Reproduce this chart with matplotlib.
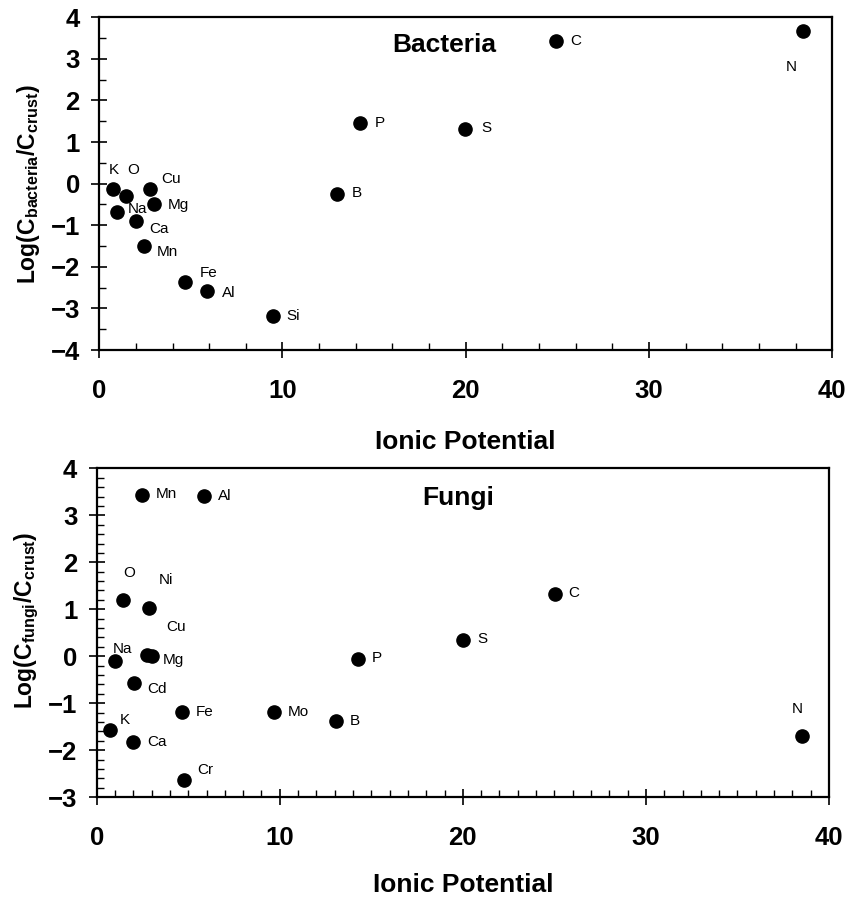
import matplotlib
matplotlib.use("Agg")
import matplotlib.pyplot as plt
from matplotlib.ticker import MultipleLocator

plt.rcParams["font.family"] = ["Liberation Sans", "DejaVu Sans"]
plt.rcParams["mathtext.fontset"] = "custom"
plt.rcParams["mathtext.rm"] = "Liberation Sans"
plt.rcParams["mathtext.bf"] = "Liberation Sans:bold"

# Bacteria panel
bac_elements = ["K", "O", "Cu", "Mg", "Na", "Ca", "Mn", "Fe", "Al", "Si", "B", "P", "S", "C", "N"]
bac_x = [0.73, 1.46, 2.78, 3.0, 0.98, 1.98, 2.44, 4.68, 5.86, 9.49, 13.0, 14.24, 19.95, 24.92, 38.4]
bac_y = [-0.13, -0.30, -0.12, -0.50, -0.69, -0.90, -1.50, -2.36, -2.59, -3.19, -0.25, 1.46, 1.32, 3.42, 3.67]
bac_label_x = [0.80, 1.84, 3.9, 4.29, 2.06, 3.26, 3.69, 5.98, 7.08, 10.57, 14.06, 15.31, 21.13, 25.99, 37.77]
bac_label_y = [0.33, 0.33, 0.11, -0.51, -0.61, -1.09, -1.64, -2.15, -2.63, -3.18, -0.23, 1.46, 1.34, 3.44, 2.81]

# Fungi panel
fun_elements = ["Mn", "Al", "O", "Ni", "Na", "Cu", "Mg", "Cd", "Fe", "Mo", "B", "P", "K", "Ca", "Cr", "S", "C", "N"]
fun_x = [2.50, 5.87, 1.46, 2.88, 1.0, 2.74, 3.04, 2.02, 4.67, 9.69, 13.08, 14.29, 0.75, 2.0, 4.76, 20.03, 25.01, 38.5]
fun_y = [3.43, 3.41, 1.20, 1.03, -0.11, 0.03, 0.0, -0.56, -1.19, -1.19, -1.38, -0.06, -1.57, -1.82, -2.63, 0.35, 1.32, -1.70]
fun_label_x = [3.78, 6.97, 1.78, 3.78, 1.42, 4.34, 4.18, 3.30, 5.89, 11.0, 14.08, 15.29, 1.53, 3.28, 5.94, 21.05, 26.05, 38.26]
fun_label_y = [3.45, 3.41, 1.78, 1.62, 0.15, 0.63, -0.08, -0.69, -1.19, -1.19, -1.37, -0.04, -1.36, -1.82, -2.42, 0.36, 1.34, -1.13]


def style_axes(ax, ymin, ymax, yminor, xminor, xlabelpad):
    ax.set_xlim(0, 40)
    ax.set_ylim(ymin, ymax)
    ax.xaxis.set_major_locator(MultipleLocator(10))
    ax.xaxis.set_minor_locator(MultipleLocator(xminor))
    ax.yaxis.set_major_locator(MultipleLocator(1))
    ax.yaxis.set_minor_locator(MultipleLocator(yminor))
    ax.tick_params(which="major", direction="inout", length=12, width=1.2, labelsize=18.5)
    ax.tick_params(which="minor", direction="in", length=5, width=1.0)
    ax.tick_params(axis="x", which="major", pad=15)
    ax.tick_params(axis="y", which="major", pad=8)
    for label in ax.get_xticklabels() + ax.get_yticklabels():
        label.set_fontweight("bold")
    for spine in ax.spines.values():
        spine.set_linewidth(1.6)
    ax.set_xlabel("Ionic Potential", fontsize=19, fontweight="bold", labelpad=xlabelpad)


fig = plt.figure(figsize=(8.5, 8.97), dpi=100)

ax1 = fig.add_axes([0.1168, 0.6098, 0.979 - 0.1168, 0.9807 - 0.6098])
ax1.plot(bac_x, bac_y, "o", color="black", markersize=9.5)
for name, lx, ly in zip(bac_elements, bac_label_x, bac_label_y):
    ax1.text(lx, ly, name, fontsize=11, ha="center", va="center")
ax1.text(16.0, 3.33, "Bacteria", fontsize=19, fontweight="bold", ha="left", va="center")
style_axes(ax1, -4, 4, 0.5, 2, 19)
ax1.set_ylabel(r"Log(C$_{\mathbf{bacteria}}$/C$_{\mathbf{crust}}$)", fontsize=16.5, fontweight="bold")
ax1.yaxis.set_label_coords(-0.078, 0.5)

ax2 = fig.add_axes([0.1138, 0.1112, 0.9753 - 0.1138, 0.4779 - 0.1112])
ax2.plot(fun_x, fun_y, "o", color="black", markersize=9.5)
for name, lx, ly in zip(fun_elements, fun_label_x, fun_label_y):
    ax2.text(lx, ly, name, fontsize=11, ha="center", va="center")
ax2.text(17.8, 3.36, "Fungi", fontsize=19, fontweight="bold", ha="left", va="center")
style_axes(ax2, -3, 4, 0.2, 1, 16.5)
ax2.set_ylabel(r"Log(C$_{\mathbf{fungi}}$/C$_{\mathbf{crust}}$)", fontsize=16.5, fontweight="bold")
ax2.yaxis.set_label_coords(-0.076, 0.538)

fig.savefig("out.png", dpi=100)
